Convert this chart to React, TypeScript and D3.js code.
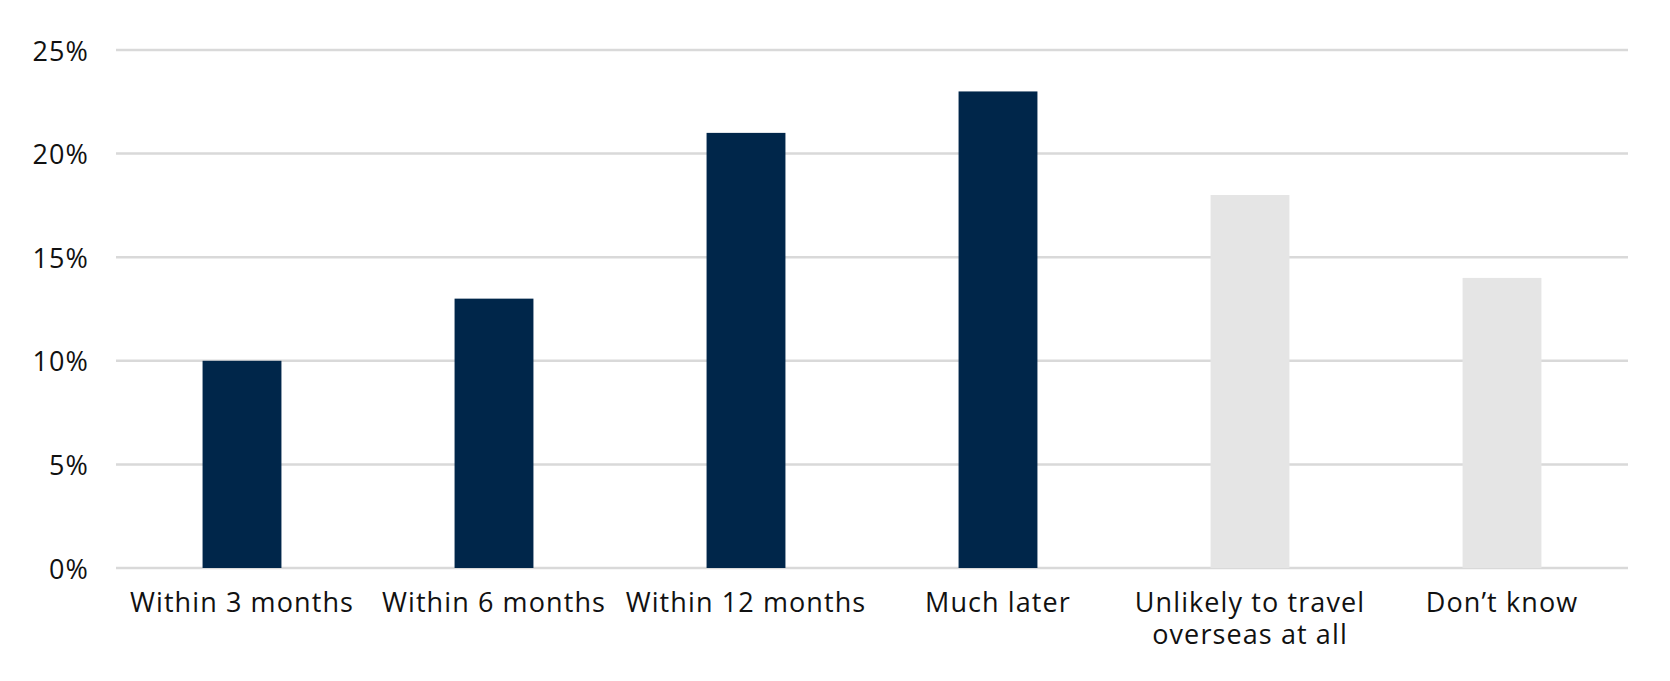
import React from "react";
import * as d3 from "d3";

const categories: string[][] = [
  ["Within 3 months"],
  ["Within 6 months"],
  ["Within 12 months"],
  ["Much later"],
  ["Unlikely to travel", "overseas at all"],
  ["Don’t know"],
];
const values: number[] = [10, 13, 21, 23, 18, 14];
const barColors: string[] = ["#00264A", "#00264A", "#00264A", "#00264A", "#E5E5E5", "#E5E5E5"];
const yTicks: number[] = [0, 5, 10, 15, 20, 25];

const W = 1670;
const H = 681;
const margin = { left: 116, right: 42, top: 50, bottom: 113 };
const FONT = "'Open Sans', sans-serif";

export default function App() {
  const x = d3
    .scaleBand<number>()
    .domain(d3.range(categories.length))
    .range([margin.left, W - margin.right])
    .padding(0);
  const y = d3.scaleLinear().domain([0, 25]).range([H - margin.bottom, margin.top]);
  const barW = x.bandwidth() * 0.313;

  return (
    <svg
      width={W}
      height={H}
      style={{ position: "absolute", left: 0, top: 0, background: "#fff" }}
      fontFamily={FONT}
    >
      {yTicks.map((t) => (
        <g key={t}>
          <line
            x1={margin.left}
            x2={W - margin.right}
            y1={y(t)}
            y2={y(t)}
            stroke="#D9D9D9"
            strokeWidth={2.5}
          />
          <text
            x={89}
            y={y(t)}
            textAnchor="end"
            dominantBaseline="central"
            fontSize={27}
            letterSpacing={1.1}
            fill="#111"
          >
            {t}%
          </text>
        </g>
      ))}
      {values.map((v, i) => (
        <rect
          key={i}
          x={(x(i) as number) + x.bandwidth() / 2 - barW / 2}
          y={y(v)}
          width={barW}
          height={y(0) - y(v)}
          fill={barColors[i]}
        />
      ))}
      {categories.map((lines, i) => (
        <text
          key={i}
          x={(x(i) as number) + x.bandwidth() / 2}
          y={612}
          textAnchor="middle"
          fontSize={27}
          letterSpacing={1.1}
          fill="#111"
        >
          {lines.map((l, j) => (
            <tspan key={j} x={(x(i) as number) + x.bandwidth() / 2} dy={j === 0 ? 0 : 31.5}>
              {l}
            </tspan>
          ))}
        </text>
      ))}
    </svg>
  );
}
